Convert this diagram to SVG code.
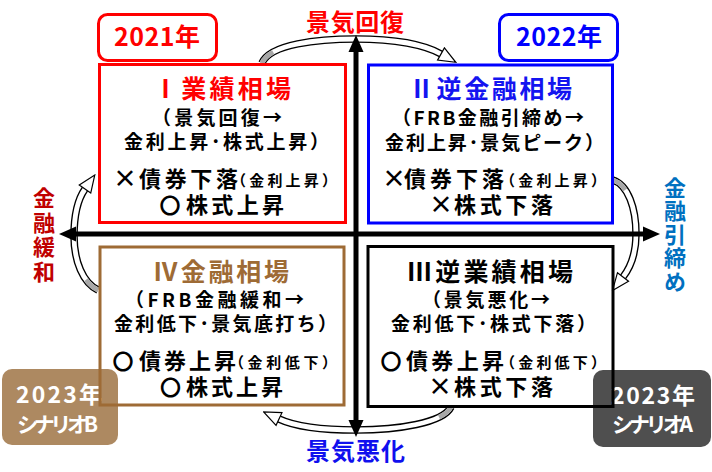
<svg xmlns="http://www.w3.org/2000/svg" width="712" height="472" viewBox="0 0 712 472">
<style>
text{font-family:"Noto Sans CJK JP","Noto Sans CJK SC",sans-serif;font-weight:bold;}
.box{fill:none;stroke-width:3;}
.cb{fill:none;stroke:#000;stroke-width:7.5;}
.cw{fill:none;stroke:#fff;stroke-width:4.8;marker-end:url(#ah);}
.ct{fill:none;stroke:#a8a8a8;stroke-width:4.8;stroke-dasharray:16 999;}
.ax{stroke:#000;stroke-width:5;}
.body{fill:#000;}
.mk{fill:#000;text-anchor:middle;}
.lab{fill:#fff;}
.vt{writing-mode:vertical-rl;}
</style>
<defs>
<marker id="ah" markerUnits="userSpaceOnUse" markerWidth="20" markerHeight="16" viewBox="0 0 20 16" refX="2" refY="8" orient="auto">
<path d="M2,1 L19,8 L2,15 z" fill="#fff" stroke="#000" stroke-width="1.2"/>
</marker>
</defs>
<rect width="712" height="472" fill="#fff"/>
<g id="connectors">
<g id="arrow-top">
<path class="cb" d="M262,63 C270,44 318,39 356,39 C395,39 425,45 441,54"/>
<path class="cw" d="M262,63 C270,44 318,39 356,39 C395,39 425,45 441,54"/>
<path class="ct" d="M262,63 C270,44 318,39 356,39 C395,39 425,45 441,54"/>
</g>
<g id="arrow-right">
<path class="cb" d="M613,180 C628,185 636,208 636,234 C636,254 630,268 623,277"/>
<path class="cw" d="M613,180 C628,185 636,208 636,234 C636,254 630,268 623,277"/>
<path class="ct" d="M613,180 C628,185 636,208 636,234 C636,254 630,268 623,277"/>
</g>
<g id="arrow-bottom">
<path class="cb" d="M451,407 C443,423 398,430 356,430 C318,430 294,426 279,419"/>
<path class="cw" d="M451,407 C443,423 398,430 356,430 C318,430 294,426 279,419"/>
<path class="ct" d="M451,407 C443,423 398,430 356,430 C318,430 294,426 279,419"/>
</g>
<g id="arrow-left">
<path class="cb" d="M98,290 C83,283 74,261 74,236 C74,213 78,199 85,189"/>
<path class="cw" d="M98,290 C83,283 74,261 74,236 C74,213 78,199 85,189"/>
<path class="ct" d="M98,290 C83,283 74,261 74,236 C74,213 78,199 85,189"/>
</g>
<g id="axes">
<line class="ax" x1="356" y1="50" x2="356" y2="423"/>
<polygon points="356,35 348.5,52 363.5,52" fill="#000"/>
<polygon points="356,437 348.5,420 363.5,420" fill="#000"/>
<line class="ax" x1="74" y1="234" x2="646" y2="234"/>
<polygon points="59,234 76,226.5 76,241.5" fill="#000"/>
<polygon points="660,234 643,226.5 643,241.5" fill="#000"/>
</g>
</g>
<g id="axis-labels">
<text x="306" y="30.5" font-size="24" textLength="98" fill="#f00">景気回復</text>
<text x="306" y="460" font-size="24" textLength="99" fill="#1010ee">景気悪化</text>
<text class="vt" x="44" y="187" font-size="22" letter-spacing="2.5" fill="#c00000">金融緩和</text>
<text class="vt" x="675" y="176.5" font-size="22" letter-spacing="1.5" fill="#0070c0">金融引締め</text>
</g>
<g id="label-2021">
<rect x="98.5" y="14.5" width="118" height="46" rx="9" fill="#fff" stroke="#f00" stroke-width="3"/>
<text x="114" y="46" font-size="25" textLength="86" fill="#f00">2021年</text>
</g>
<g id="label-2022">
<rect x="499.5" y="14.5" width="118" height="46" rx="9" fill="#fff" stroke="#00f" stroke-width="3"/>
<text x="516" y="46" font-size="25" textLength="86" fill="#00f">2022年</text>
</g>
<g id="label-2023B">
<rect x="2" y="369" width="116" height="76" rx="10" fill="#ad8961"/>
<text class="lab" x="16" y="403" font-size="23" textLength="86">2023年</text>
<text class="lab" x="17" y="432" font-size="21" textLength="81">シナリオB</text>
</g>
<g id="label-2023A">
<rect x="593" y="370" width="118" height="77" rx="10" fill="#4f4f4f"/>
<text class="lab" x="611" y="404" font-size="23" textLength="84">2023年</text>
<text class="lab" x="612" y="432" font-size="21" textLength="81">シナリオA</text>
</g>
<g id="node-I">
<rect class="box" x="99.5" y="64.5" width="246" height="158" stroke="#f00"/>
<text x="153" y="98" font-size="25" textLength="138" fill="#f00">Ⅰ業績相場</text>
<text class="body" x="152" y="125" font-size="19" textLength="130">（景気回復→</text>
<text class="body" x="124" y="149" font-size="19" textLength="205">金利上昇･株式上昇）</text>
<text class="mk" x="125" y="187" font-size="24">×</text>
<text class="body" x="139" y="187" font-size="22" textLength="99">債券下落</text>
<text class="body" x="231" y="186" font-size="15" textLength="106">（金利上昇）</text>
<text class="mk" x="170" y="213" font-size="21">〇</text>
<text class="body" x="186" y="213" font-size="22" textLength="98">株式上昇</text>
</g>
<g id="node-II">
<rect class="box" x="368.5" y="65" width="244" height="158" stroke="#00f"/>
<text x="409" y="98" font-size="25" textLength="163" fill="#1414f0">Ⅱ逆金融相場</text>
<text class="body" x="392" y="125" font-size="19" textLength="192">（FRB金融引締め→</text>
<text class="body" x="385" y="150" font-size="19" textLength="219">金利上昇･景気ピーク）</text>
<text class="mk" x="394" y="187" font-size="24">×</text>
<text class="body" x="404" y="187" font-size="22" textLength="100">債券下落</text>
<text class="body" x="500" y="186" font-size="15" textLength="106">（金利上昇）</text>
<text class="mk" x="441" y="213" font-size="24">×</text>
<text class="body" x="454" y="213" font-size="22" textLength="99">株式下落</text>
</g>
<g id="node-IV">
<rect class="box" x="100" y="247" width="244" height="158" stroke="#9e6b35"/>
<text x="153" y="281" font-size="25" textLength="136" fill="#9e6b35">Ⅳ金融相場</text>
<text class="body" x="125" y="307" font-size="19" textLength="179">（FRB金融緩和→</text>
<text class="body" x="114" y="331" font-size="19" textLength="223">金利低下･景気底打ち）</text>
<text class="mk" x="123" y="369" font-size="21">〇</text>
<text class="body" x="139" y="369" font-size="22" textLength="97">債券上昇</text>
<text class="body" x="229" y="368" font-size="15" textLength="108">（金利低下）</text>
<text class="mk" x="170.5" y="395" font-size="21">〇</text>
<text class="body" x="186" y="395" font-size="22" textLength="97">株式上昇</text>
</g>
<g id="node-III">
<rect class="box" x="368" y="246.5" width="245" height="160" stroke="#000"/>
<text x="407" y="281" font-size="25" textLength="166" fill="#000">Ⅲ逆業績相場</text>
<text class="body" x="422" y="307" font-size="19" textLength="128">（景気悪化→</text>
<text class="body" x="391" y="331" font-size="19" textLength="205">金利低下･株式下落）</text>
<text class="mk" x="391" y="369" font-size="21">〇</text>
<text class="body" x="406" y="369" font-size="22" textLength="98">債券上昇</text>
<text class="body" x="500" y="368" font-size="15" textLength="106">（金利低下）</text>
<text class="mk" x="440" y="395" font-size="24">×</text>
<text class="body" x="454" y="395" font-size="22" textLength="99">株式下落</text>
</g>
</svg>
